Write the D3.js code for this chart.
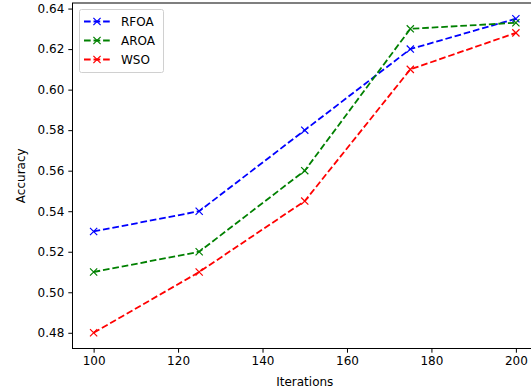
<!DOCTYPE html>
<html><head><meta charset="utf-8">
<script src="https://cdn.jsdelivr.net/npm/d3@7"></script>
<style>
body{margin:0;background:#fff;}
text{font-family:"DejaVu Sans",sans-serif;}
</style></head>
<body><svg id="c" width="531" height="392"></svg>
<script>
const iterations = [100, 125, 150, 175, 200];
const rfoa = [0.53, 0.54, 0.58, 0.62, 0.635];
const aroa = [0.51, 0.52, 0.56, 0.63, 0.633];
const wso = [0.48, 0.51, 0.545, 0.61, 0.628];
const seriesNames = ["RFOA", "AROA", "WSO"];
const seriesColors = ["#0000ff", "#008000", "#ff0000"];
const xTicks = [100, 120, 140, 160, 180, 200];
const yTicks = [0.48, 0.50, 0.52, 0.54, 0.56, 0.58, 0.60, 0.62, 0.64];

const series = [rfoa, aroa, wso].map((v, i) => ({name: seriesNames[i], color: seriesColors[i], values: v}));

const svg = d3.select("#c");
const L = 72.5, T = 3, B = 348.5, R = 537;
const x = d3.scaleLinear().domain([95, 205]).range([L, R]);
const y = d3.scaleLinear().domain([0.47225, 0.64275]).range([B, T]);

// lines
const line = d3.line().x((d, i) => x(iterations[i])).y(d => y(d));
series.forEach(s => {
  svg.append("path").attr("d", line(s.values)).attr("fill", "none")
    .attr("stroke", s.color).attr("stroke-width", 1.8).attr("stroke-dasharray", "6.66,2.88");
  const m = 3.6;
  s.values.forEach((v, i) => {
    const cx = x(iterations[i]), cy = y(v);
    svg.append("path").attr("d", `M${cx-m},${cy-m}L${cx+m},${cy+m}M${cx-m},${cy+m}L${cx+m},${cy-m}`)
      .attr("stroke", s.color).attr("stroke-width", 1.2).attr("fill", "none");
  });
});

// axes
const xAxis = d3.axisBottom(x).tickValues(xTicks).tickSize(4.2).tickPadding(4).tickFormat(d3.format("d"));
const yAxis = d3.axisLeft(y).tickValues(yTicks).tickSize(4.2).tickPadding(4).tickFormat(d3.format(".2f"));
const gx = svg.append("g").attr("transform", `translate(0,${B})`).call(xAxis);
const gy = svg.append("g").attr("transform", `translate(${L},0)`).call(yAxis);
[gx, gy].forEach(g => {
  g.select(".domain").remove();
  g.selectAll("text").attr("font-size", 12).attr("fill", "#000").style("font-family", "DejaVu Sans");
  g.selectAll("line").attr("stroke", "#000").attr("stroke-width", 1);
});
// spines
svg.append("rect").attr("x", L).attr("y", T).attr("width", R - L).attr("height", B - T)
  .attr("fill", "none").attr("stroke", "#000").attr("stroke-width", 1);

// axis labels
svg.append("text").attr("x", (L + R) / 2).attr("y", 386).attr("text-anchor", "middle")
  .attr("font-size", 12).text("Iterations");
svg.append("text").attr("transform", `translate(25,${(T + B) / 2}) rotate(-90)`).attr("text-anchor", "middle")
  .attr("font-size", 12).text("Accuracy");

// legend
const lg = svg.append("g");
lg.append("rect").attr("x", 79.5).attr("y", 9.5).attr("width", 84).attr("height", 63).attr("rx", 2)
  .attr("fill", "#fff").attr("fill-opacity", 0.8).attr("stroke", "#d0d0d0").attr("stroke-width", 1);
series.forEach((s, i) => {
  const yy = 21.5 + i * 19;
  lg.append("line").attr("x1", 84).attr("x2", 110).attr("y1", yy).attr("y2", yy)
    .attr("stroke", s.color).attr("stroke-width", 1.8).attr("stroke-dasharray", "6.66,2.88");
  const cx = 97, m = 3.6;
  lg.append("path").attr("d", `M${cx-m},${yy-m}L${cx+m},${yy+m}M${cx-m},${yy+m}L${cx+m},${yy-m}`)
    .attr("stroke", s.color).attr("stroke-width", 1.2);
  lg.append("text").attr("x", 121).attr("y", yy + 4.5).attr("font-size", 12).text(s.name);
});
</script></body></html>
